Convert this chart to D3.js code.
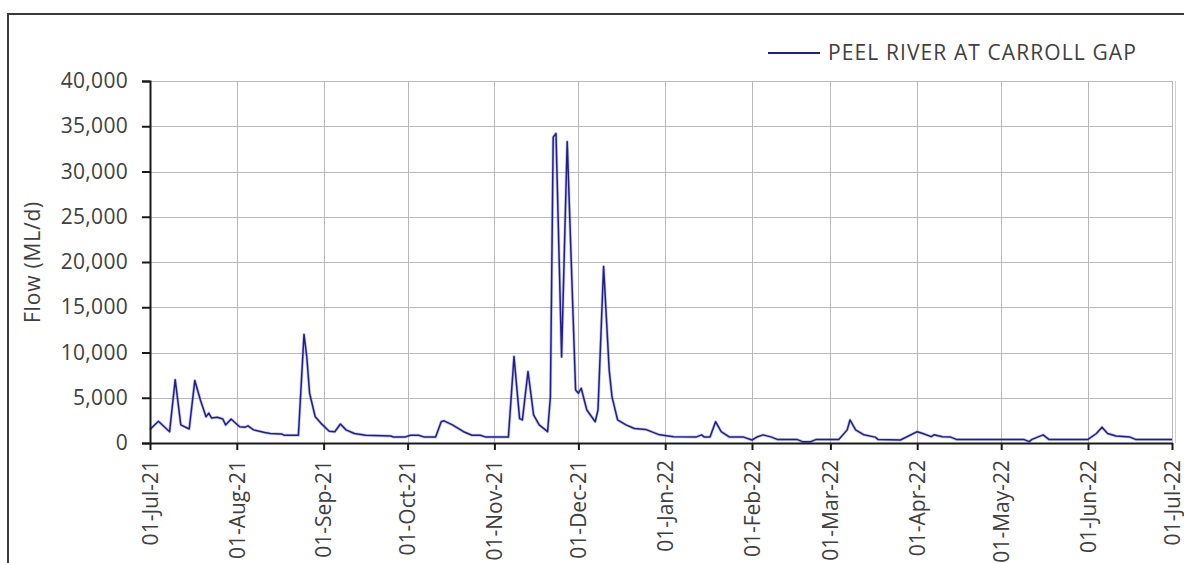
<!DOCTYPE html>
<html>
<head>
<meta charset="utf-8">
<script src="https://cdn.jsdelivr.net/npm/d3@7"></script>
<style>
  html, body { margin: 0; padding: 0; background: #fff; }
  svg { display: block; }
  text { font-family: "Open Sans", "DejaVu Sans", sans-serif; fill: #404040; }
</style>
</head>
<body>
<svg id="chart" width="1184" height="563"></svg>
<script>
// Daily flow record, Peel River at Carroll Gap, July 2021 – June 2022 (ML/d).
// Dates mark the turning points of the hydrograph.
const flowDates = [
  "2021-07-01","2021-07-04","2021-07-08","2021-07-10","2021-07-12","2021-07-15",
  "2021-07-17","2021-07-19","2021-07-21","2021-07-22","2021-07-23","2021-07-25",
  "2021-07-27","2021-07-28","2021-07-30","2021-07-31","2021-08-02","2021-08-04",
  "2021-08-05","2021-08-07","2021-08-11","2021-08-13","2021-08-17","2021-08-18",
  "2021-08-23","2021-08-25","2021-08-26","2021-08-27","2021-08-29","2021-08-31",
  "2021-09-03","2021-09-05","2021-09-07","2021-09-09","2021-09-12","2021-09-16",
  "2021-09-25","2021-09-26","2021-09-30","2021-10-02","2021-10-05","2021-10-07",
  "2021-10-11","2021-10-13","2021-10-14","2021-10-17","2021-10-21","2021-10-24",
  "2021-10-27","2021-10-29","2021-11-06","2021-11-08","2021-11-10","2021-11-11",
  "2021-11-13","2021-11-15","2021-11-17","2021-11-20","2021-11-21","2021-11-22",
  "2021-11-23","2021-11-25","2021-11-27","2021-11-30","2021-12-01","2021-12-02",
  "2021-12-04","2021-12-07","2021-12-08","2021-12-10","2021-12-12","2021-12-13",
  "2021-12-15","2021-12-18","2021-12-21","2021-12-25","2021-12-30","2022-01-04",
  "2022-01-12","2022-01-14","2022-01-15","2022-01-17","2022-01-19","2022-01-21",
  "2022-01-24","2022-01-29","2022-02-01","2022-02-03","2022-02-05","2022-02-08",
  "2022-02-10","2022-02-17","2022-02-19","2022-02-22","2022-02-24","2022-03-04",
  "2022-03-07","2022-03-08","2022-03-10","2022-03-13","2022-03-17","2022-03-18",
  "2022-03-26","2022-04-01","2022-04-03","2022-04-06","2022-04-07","2022-04-10",
  "2022-04-13","2022-04-15","2022-05-09","2022-05-11","2022-05-12","2022-05-16",
  "2022-05-18","2022-06-01","2022-06-04","2022-06-06","2022-06-08","2022-06-11",
  "2022-06-16","2022-06-18","2022-07-01"
];
const flowValues = [
  1500, 2400, 1250, 7000, 2000, 1550,
  6900, 4750, 2900, 3300, 2750, 2850,
  2650, 2000, 2650, 2350, 1800, 1750,
  1900, 1450, 1150, 1050, 1000, 850,
  850, 12000, 9500, 5500, 2900, 2200,
  1300, 1250, 2100, 1450, 1050, 850,
  780, 650, 650, 850, 850, 650,
  650, 2350, 2450, 2000, 1250, 850,
  850, 650, 650, 9550, 2700, 2550,
  7900, 3100, 2000, 1250, 5100, 33800,
  34200, 9500, 33300, 5850, 5500, 6050,
  3650, 2350, 3650, 19500, 8050, 5100,
  2550, 2000, 1600, 1500, 900, 700,
  650, 900, 650, 650, 2350, 1250,
  650, 650, 330, 700, 900, 650,
  400, 400, 150, 150, 400, 400,
  1450, 2550, 1450, 900, 650, 400,
  330, 1250, 1050, 700, 900, 700,
  650, 400, 400, 150, 400, 900,
  400, 400, 1050, 1750, 1050, 780,
  650, 400, 400
];

const seriesName = "PEEL RIVER AT CARROLL GAP";
const yAxisTitle = "Flow (ML/d)";
const yTickValues = [0, 5000, 10000, 15000, 20000, 25000, 30000, 35000, 40000];
const xDomain = ["2021-07-01", "2022-07-01"];

const parse = d3.utcParse("%Y-%m-%d");
const series = flowDates.map((d, i) => ({ date: parse(d), value: flowValues[i] }));

const svg = d3.select("#chart");

// Chart frame
svg.append("rect")
  .attr("x", 8).attr("y", 14)
  .attr("width", 1200).attr("height", 600)
  .attr("fill", "#fff")
  .attr("stroke", "#3a3a3a").attr("stroke-width", 2);

const plot = { left: 150, right: 1172, top: 81, bottom: 443 };

const x = d3.scaleUtc()
  .domain(xDomain.map(parse))
  .range([plot.left, plot.right]);

const y = d3.scaleLinear()
  .domain([0, 40000])
  .range([plot.bottom, plot.top]);

const monthTicks = d3.utcMonth.range(x.domain()[0], d3.utcDay.offset(x.domain()[1], 1));
const fmtDate = d3.utcFormat("%d-%b-%y");

// Gridlines
const grid = svg.append("g").attr("stroke", "#b9b9b9").attr("stroke-width", 1);
grid.selectAll("line.h").data(yTickValues.filter(v => v > 0)).join("line")
  .attr("x1", plot.left).attr("x2", plot.right)
  .attr("y1", d => Math.round(y(d)) + 0.5).attr("y2", d => Math.round(y(d)) + 0.5);
grid.selectAll("line.v").data(monthTicks.slice(1)).join("line")
  .attr("x1", d => Math.round(x(d)) + 0.5).attr("x2", d => Math.round(x(d)) + 0.5)
  .attr("y1", plot.top).attr("y2", plot.bottom);
svg.append("line")
  .attr("x1", plot.right + 3.5).attr("x2", plot.right + 3.5)
  .attr("y1", plot.top).attr("y2", plot.bottom)
  .attr("stroke", "#d0d0d0").attr("stroke-width", 1);

// Flow line: soft halo under a dark core stroke
const line = d3.line().x(d => x(d.date)).y(d => y(d.value));
svg.append("path")
  .datum(series)
  .attr("fill", "none")
  .attr("stroke", "#5a5ad8").attr("stroke-width", 3).attr("stroke-opacity", 0.35)
  .attr("stroke-linejoin", "round")
  .attr("d", line);
svg.append("path")
  .datum(series)
  .attr("fill", "none")
  .attr("stroke", "#1f1f8c").attr("stroke-width", 1.5)
  .attr("stroke-linejoin", "round")
  .attr("d", line);

// Y axis
const yAxis = d3.axisLeft(y)
  .tickValues(yTickValues)
  .tickFormat(d3.format(","))
  .tickSize(8).tickPadding(14);
const gy = svg.append("g").attr("transform", `translate(${plot.left},0)`).call(yAxis);
gy.select(".domain").attr("stroke", "#1a1a1a").attr("stroke-width", 2);
gy.selectAll(".tick line").attr("stroke", "#1a1a1a").attr("stroke-width", 2);
gy.selectAll(".tick text")
  .attr("font-size", 21).attr("fill", "#404040")
  .attr("letter-spacing", "0.3px")
  .style("font-family", '"Open Sans", sans-serif');

// X axis
const xAxis = d3.axisBottom(x)
  .tickValues(monthTicks)
  .tickFormat(fmtDate)
  .tickSize(7).tickSizeOuter(0);
const gx = svg.append("g").attr("transform", `translate(0,${plot.bottom})`).call(xAxis);
gx.select(".domain").attr("stroke", "#1a1a1a").attr("stroke-width", 2);
gx.selectAll(".tick line").attr("stroke", "#1a1a1a").attr("stroke-width", 2);
gx.selectAll(".tick text")
  .attr("font-size", 21).attr("fill", "#404040")
  .style("font-family", '"Open Sans", sans-serif')
  .attr("text-anchor", "end")
  .attr("dy", "0.35em")
  .attr("transform", "translate(0,17) rotate(-90)")
  .attr("x", 0).attr("y", 0);

// Y axis title
svg.append("text")
  .attr("transform", `translate(33,${(plot.top + plot.bottom) / 2}) rotate(-90)`)
  .attr("text-anchor", "middle")
  .attr("dy", "0.35em")
  .attr("font-size", 21)
  .attr("letter-spacing", "0.8px")
  .text(yAxisTitle);

// Legend
const lg = svg.append("g").attr("transform", "translate(768,53)");
lg.append("line").attr("x1", 0).attr("x2", 52).attr("y1", 0).attr("y2", 0)
  .attr("stroke", "#1f1f8c").attr("stroke-width", 2);
lg.append("text").attr("x", 60).attr("y", 0).attr("dy", "0.35em")
  .attr("font-size", 21).attr("letter-spacing", "1.1px").text(seriesName);
</script>
</body>
</html>
